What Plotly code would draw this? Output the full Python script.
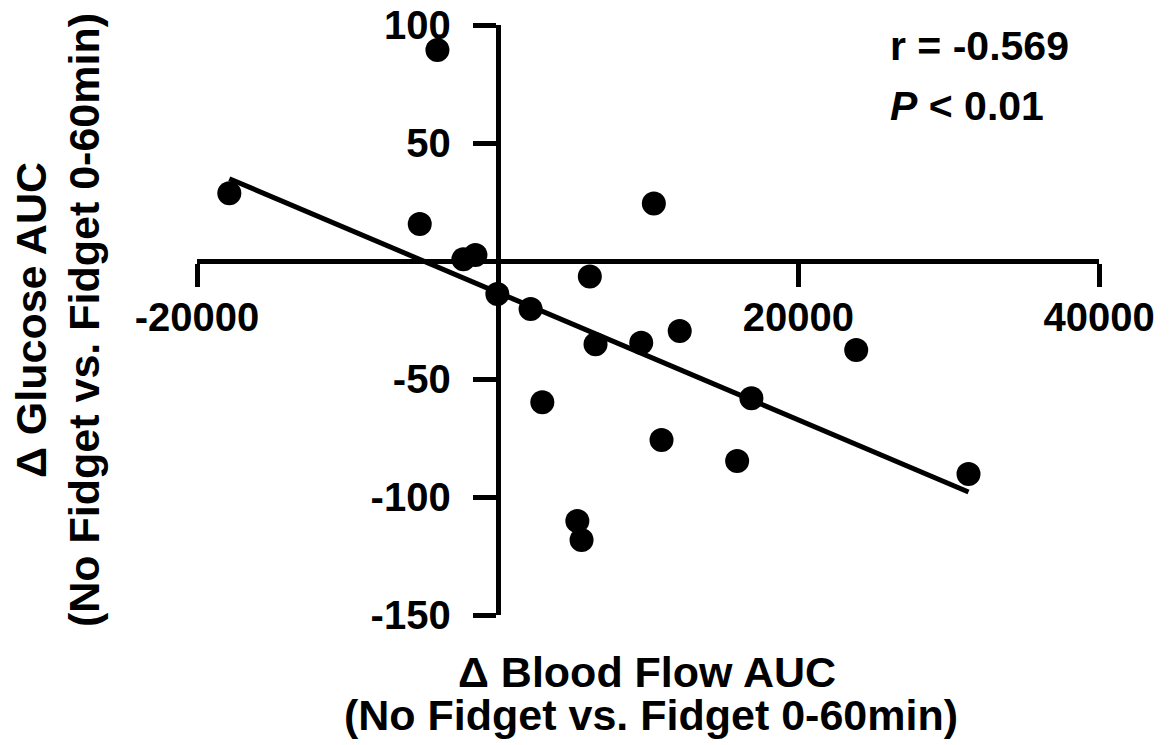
import numpy as np
import plotly.graph_objects as go

# Data
blood_flow_auc = [-17850, -4007, -5183, -2280, -1480, -20, 2190, 6130, 10390, 6510,
                  9550, 12110, 2970, 10900, 16880, 15930, 5300, 5580, 23850, 31320]
glucose_auc = [28.7, 89.4, 15.7, 0.7, 2.5, -14.0, -20.3, -6.6, 24.4, -35.3,
               -34.6, -29.7, -59.9, -75.8, -58.2, -84.7, -110.2, -118.2, -37.7, -90.3]
x_tickvals = [-20000, 20000, 40000]
y_tickvals = [-150, -100, -50, 50, 100]
x_range = [-20000, 40000]
y_range = [-150, 100]
stats_lines = ["r = -0.569", "<i>P</i> &lt; 0.01"]
x_title_lines = ["\u0394 Blood Flow AUC", "(No Fidget vs. Fidget 0-60min)"]
y_title_lines = ["\u0394 Glucose AUC", "(No Fidget vs. Fidget 0-60min)"]

FONT = "Liberation Sans, Arial, sans-serif"

# Linear regression line from the data
slope, intercept = np.polyfit(blood_flow_auc, glucose_auc, 1)
line_x = np.array([min(blood_flow_auc), max(blood_flow_auc)])
line_y = slope * line_x + intercept

fig = go.Figure()
fig.add_trace(go.Scatter(x=line_x, y=line_y, mode="lines",
                         line=dict(color="black", width=5), hoverinfo="skip",
                         showlegend=False))
fig.add_trace(go.Scatter(x=blood_flow_auc, y=glucose_auc, mode="markers",
                         marker=dict(color="black", size=24, line=dict(width=0)),
                         showlegend=False))

# position of the crossing axes in normalized domain coordinates
x_pos = (0 - y_range[0]) / (y_range[1] - y_range[0])
y_pos = (0 - x_range[0]) / (x_range[1] - x_range[0])

fig.update_layout(
    width=1163, height=737,
    margin=dict(l=189, r=72, t=17, b=130),
    paper_bgcolor="white", plot_bgcolor="white",
    xaxis=dict(range=x_range, anchor="free", position=x_pos,
               showgrid=False, zeroline=False, showline=True,
               linecolor="black", linewidth=5,
               ticks="outside", ticklen=23, tickwidth=5, tickcolor="black",
               tickvals=x_tickvals, ticktext=[str(v) for v in x_tickvals],
               tickfont=dict(family=FONT, size=40, color="black", weight="bold"),
               ticklabelstandoff=-4, ticklabeloverflow="allow", automargin=False),
    yaxis=dict(range=y_range, anchor="free", position=y_pos,
               showgrid=False, zeroline=False, showline=True,
               linecolor="black", linewidth=5,
               ticks="outside", ticklen=23, tickwidth=5, tickcolor="black",
               tickvals=y_tickvals, ticktext=[str(v) for v in y_tickvals],
               tickfont=dict(family=FONT, size=40, color="black", weight="bold"),
               ticklabelstandoff=14, ticklabeloverflow="allow", automargin=False),
)

ann = []
title_font = dict(family=FONT, size=43, color="black", weight="bold")
# x-axis title lines
ann.append(dict(text=x_title_lines[0], xref="paper", yref="paper", x=0.4989, y=0,
                xanchor="center", yanchor="middle", yshift=-57, showarrow=False,
                font=title_font))
ann.append(dict(text=x_title_lines[1], xref="paper", yref="paper", x=0.5033, y=0,
                xanchor="center", yanchor="middle", yshift=-100, showarrow=False,
                font=title_font))
# y-axis title lines
ann.append(dict(text=y_title_lines[0], xref="paper", yref="paper", x=0, y=0.5,
                xanchor="center", yanchor="middle", xshift=-166, showarrow=False,
                textangle=-90, font=title_font))
ann.append(dict(text=y_title_lines[1], xref="paper", yref="paper", x=0, y=0.5,
                xanchor="center", yanchor="middle", xshift=-113, showarrow=False,
                textangle=-90, font=title_font))
# stats
stats_font = dict(family=FONT, size=41, color="black", weight="bold")
ann.append(dict(text=stats_lines[0], xref="paper", yref="paper", x=0.766, y=0.964,
                xanchor="left", yanchor="middle", showarrow=False, font=stats_font))
ann.append(dict(text=stats_lines[1], xref="paper", yref="paper", x=0.766, y=0.863,
                xanchor="left", yanchor="middle", showarrow=False, font=stats_font))
fig.update_layout(annotations=ann)

fig.write_html("out.html")
